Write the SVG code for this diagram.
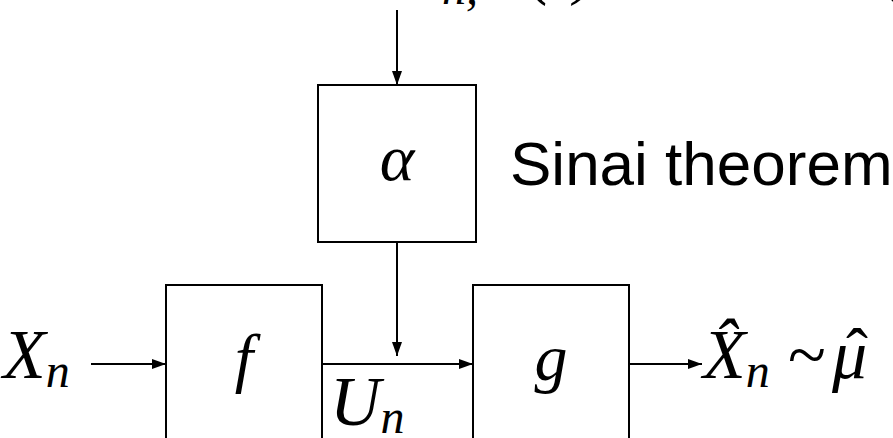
<svg xmlns="http://www.w3.org/2000/svg" width="893" height="438" viewBox="0 0 893 438">
<defs>
<marker id="ah" markerWidth="14" markerHeight="10" refX="14" refY="5" orient="auto" markerUnits="userSpaceOnUse"><path d="M0,0 L14,5 L0,10 Z" fill="#000"/></marker>
<style>
.box{fill:none;stroke:#000;stroke-width:2}
.ln{fill:none;stroke:#000;stroke-width:2;marker-end:url(#ah)}
.m{font-family:"Liberation Serif","Times New Roman",serif;font-style:italic;fill:#000}
.r{font-family:"Liberation Serif","Times New Roman",serif;fill:#000}
.s{font-family:"Liberation Sans",Arial,sans-serif;fill:#000}
</style>
</defs>
<rect width="893" height="438" fill="#fff"/>
<g id="top-fragments">
<text class="m" x="442" y="4" font-size="48">n,</text>
<text class="m" x="530" y="-8" font-size="66">(</text>
<text class="m" x="574" y="-8" font-size="66">)</text>
<text class="m" x="884" y="-8" font-size="66">(</text>
</g>
<g id="connectors">
<line class="ln" x1="397" y1="10" x2="397" y2="85"/>
<line class="ln" x1="397" y1="242" x2="397" y2="356"/>
<line class="ln" x1="91" y1="364" x2="166" y2="364"/>
<line class="ln" x1="322" y1="364" x2="473" y2="364"/>
<line class="ln" x1="629" y1="364" x2="702" y2="364"/>
</g>
<g id="alpha">
<rect class="box" x="318" y="85" width="158" height="157"/>
<text class="m" x="397" y="180" font-size="66" text-anchor="middle">α</text>
</g>
<g id="f">
<rect class="box" x="166" y="285" width="156" height="170"/>
<text class="m" x="244" y="380" font-size="66" text-anchor="middle">f</text>
</g>
<g id="g">
<rect class="box" x="473" y="285" width="156" height="170"/>
<text class="m" x="551" y="380" font-size="66" text-anchor="middle">g</text>
</g>
<text class="s" x="510" y="185" font-size="62">Sinai theorem</text>
<text class="m" x="3" y="378" font-size="70">X<tspan font-size="48" dy="9">n</tspan></text>
<text class="m" x="330" y="425" font-size="70">U<tspan font-size="48" dy="8">n</tspan></text>
<text class="m" x="703" y="378" font-size="70">X̂<tspan font-size="48" dy="9">n</tspan></text>
<text class="r" x="788" y="378" font-size="70">~</text>
<text class="m" x="832" y="378" font-size="70">μ</text>
<text class="r" x="857" y="374" font-size="66" text-anchor="middle">ˆ</text>
</svg>
